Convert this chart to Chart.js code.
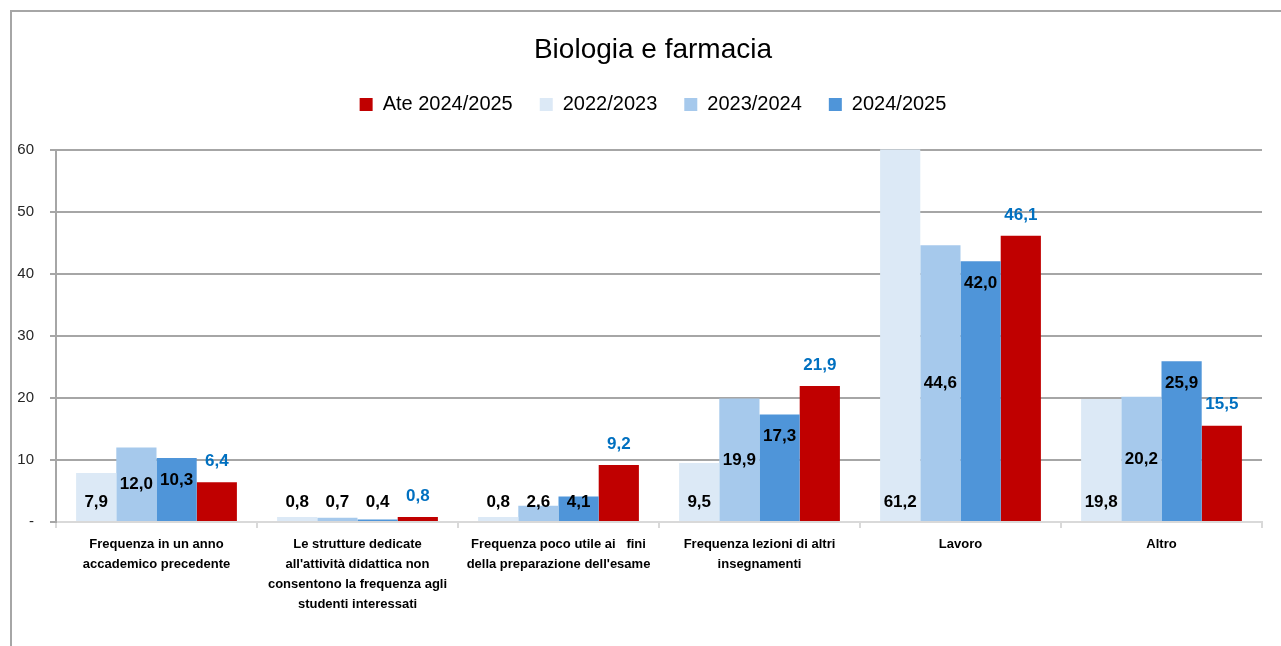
<!DOCTYPE html>
<html lang="it">
<head>
<meta charset="UTF-8">
<title>Biologia e farmacia</title>
<style>
  html, body { margin: 0; padding: 0; background: #fff; overflow: hidden; }
  .frame {
    position: absolute; left: 10px; top: 10px; width: 1271px; height: 636px;
    border-top: 2px solid #a6a6a6; border-left: 2px solid #a6a6a6;
  }
  #chart { position: absolute; left: 0; top: 0; }
</style>
<script src="https://cdn.jsdelivr.net/npm/chart.js"></script>
</head>
<body>
<div class="frame"></div>
<canvas id="chart" width="1281" height="646"></canvas>
<script>
// motivi della mancata frequenza, valori in %
const categorie = [
  ["Frequenza in un anno", "accademico precedente"],
  ["Le strutture dedicate", "all'attività didattica non", "consentono la frequenza agli", "studenti interessati"],
  ["Frequenza poco utile ai   fini", "della preparazione dell'esame"],
  ["Frequenza lezioni di altri", "insegnamenti"],
  "Lavoro",
  "Altro"
];
const anno2223 = [7.9, 0.8, 0.8, 9.5, 61.2, 19.8];
const anno2324 = [12.0, 0.7, 2.6, 19.9, 44.6, 20.2];
const anno2425 = [10.3, 0.4, 4.1, 17.3, 42.0, 25.9];
const ateneo2425 = [6.4, 0.8, 9.2, 21.9, 46.1, 15.5];
const yTicks = [0, 10, 20, 30, 40, 50, 60];

const fmt = v => v.toFixed(1).replace('.', ',');

// etichette dei valori: posizione diversa per ogni serie
const valueLabels = {
  id: 'valueLabels',
  afterDatasetsDraw(chart) {
    const ctx = chart.ctx;
    const base = chart.scales.y.getPixelForValue(0);
    const floor = base - 20;
    ctx.save();
    ctx.font = 'bold 17px "Liberation Sans", Arial, sans-serif';
    ctx.textAlign = 'center';
    ctx.textBaseline = 'middle';
    chart.data.datasets.forEach((ds, i) => {
      chart.getDatasetMeta(i).data.forEach((bar, j) => {
        const top = Math.max(bar.y, chart.chartArea.top);
        let y;
        if (ds.labelPos === 'base') y = floor;
        else if (ds.labelPos === 'center') y = Math.min((top + base) / 2, floor);
        else if (ds.labelPos === 'end') y = Math.min(top + 22, floor);
        else y = top - 21;
        ctx.fillStyle = ds.labelColor;
        ctx.fillText(fmt(ds.data[j]), bar.x, y);
      });
    });
    ctx.restore();
  }
};

// titolo e legenda: più spazio sotto la legenda e centratura spostata a destra
const headerLayout = {
  id: 'headerLayout',
  afterInit(chart) {
    const legend = chart.legend;
    const fit = legend.fit.bind(legend);
    legend.fit = function () { fit(); this.height += 25; };
  },
  afterLayout(chart) {
    [chart.titleBlock, chart.legend].forEach(box => {
      box.left += 22;
      box.right += 22;
    });
  }
};

new Chart(document.getElementById('chart'), {
  type: 'bar',
  data: {
    labels: categorie,
    datasets: [
      { label: '2022/2023', data: anno2223, backgroundColor: '#dce9f6', labelPos: 'base', labelColor: '#000' },
      { label: '2023/2024', data: anno2324, backgroundColor: '#a6c9ec', labelPos: 'center', labelColor: '#000' },
      { label: '2024/2025', data: anno2425, backgroundColor: '#4f95d9', labelPos: 'end', labelColor: '#000' },
      { label: 'Ate 2024/2025', data: ateneo2425, backgroundColor: '#c00000', labelPos: 'out', labelColor: '#0070c0' }
    ]
  },
  options: {
    responsive: false,
    animation: false,
    categoryPercentage: 0.8,
    barPercentage: 1.0,
    layout: { padding: { left: 0, right: 19, top: 0, bottom: 0 } },
    plugins: {
      title: {
        display: true,
        text: 'Biologia e farmacia',
        color: '#000',
        font: { family: '"Liberation Sans", Arial, sans-serif', size: 28, weight: 'normal' },
        padding: { top: 33, bottom: 1 }
      },
      legend: {
        position: 'top',
        labels: {
          sort: (a, b) => ((a.datasetIndex + 1) % 4) - ((b.datasetIndex + 1) % 4),
          boxWidth: 13,
          boxHeight: 13,
          padding: 27,
          color: '#000',
          font: { family: '"Liberation Sans", Arial, sans-serif', size: 20 }
        }
      },
      tooltip: { enabled: false }
    },
    scales: {
      x: {
        border: { color: '#d9d9d9', width: 2 },
        grid: { offset: true, drawOnChartArea: false, tickLength: 6, color: '#d9d9d9', lineWidth: 2 },
        ticks: {
          padding: 6,
          maxRotation: 0,
          autoSkip: false,
          color: '#000',
          font: { family: '"Liberation Sans", Arial, sans-serif', size: 13, weight: 'bold', lineHeight: 1.54 }
        },
        afterFit(scale) { scale.height = 124; }
      },
      y: {
        min: 0,
        max: 60,
        afterBuildTicks(scale) { scale.ticks = yTicks.map(v => ({ value: v })); },
        border: { color: '#a6a6a6', width: 2 },
        grid: {
          color: c => c.tick && c.tick.value === 0 ? '#d9d9d9' : '#a6a6a6',
          tickColor: '#a6a6a6',
          lineWidth: 2,
          tickLength: 6
        },
        ticks: {
          padding: 16,
          color: '#262626',
          font: { family: '"Liberation Sans", Arial, sans-serif', size: 15 },
          callback: v => v === 0 ? '-' : v
        },
        afterFit(scale) { scale.width = 56; }
      }
    }
  },
  plugins: [valueLabels, headerLayout]
});
</script>
</body>
</html>
